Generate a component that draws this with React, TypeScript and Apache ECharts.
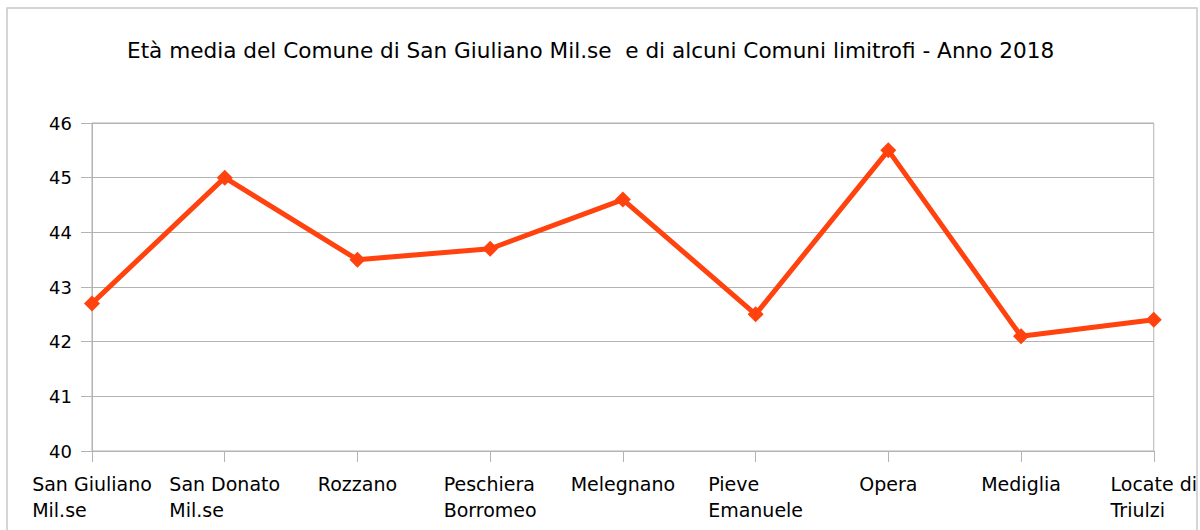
import React, { useEffect, useRef } from "react";
import * as echarts from "echarts";

const categories: string[] = [
  "San Giuliano\nMil.se",
  "San Donato\nMil.se",
  "Rozzano",
  "Peschiera\nBorromeo",
  "Melegnano",
  "Pieve\nEmanuele",
  "Opera",
  "Mediglia",
  "Locate di\nTriulzi",
];
const etaMedia: number[] = [42.7, 45.0, 43.5, 43.7, 44.6, 42.5, 45.5, 42.1, 42.4];
const yTicks = { min: 40, max: 46, interval: 1 };
const titleText = "Età media del Comune di San Giuliano Mil.se  e di alcuni Comuni limitrofi - Anno 2018";

const FONT = "'DejaVu Sans', Verdana, sans-serif";

export default function App() {
  const ref = useRef<HTMLDivElement>(null);
  useEffect(() => {
    document.body.style.margin = "0";
    const chart = echarts.init(ref.current!, null, { renderer: "svg" });
    chart.setOption({
      animation: false,
      backgroundColor: "#ffffff",
      textStyle: { fontFamily: FONT },
      title: {
        text: titleText,
        left: 122,
        top: 34,
        textStyle: { fontFamily: FONT, fontSize: 21.6, fontWeight: "normal", color: "#000" },
      },
      graphic: [
        {
          type: "rect",
          shape: { x: 7, y: 8, width: 1190, height: 540 },
          style: { fill: "none", stroke: "#c8c8c8", lineWidth: 1.5 },
          silent: true,
        },
      ],
      grid: {
        left: 92,
        right: 46,
        top: 123,
        bottom: 79,
        show: true,
        borderColor: "#b3b3b3",
        borderWidth: 1,
      },
      xAxis: {
        type: "category",
        data: categories,
        boundaryGap: false,
        axisLine: { show: true, lineStyle: { color: "#b3b3b3", width: 1 } },
        axisTick: { show: true, length: 11, lineStyle: { color: "#b3b3b3" } },
        splitLine: { show: false },
        axisLabel: {
          interval: 0,
          margin: 20,
          color: "#000",
          fontSize: 19,
          fontFamily: FONT,
          formatter: (v: string) => v.split("\n").map((l) => `{a|${l}}`).join("\n"),
          rich: { a: { align: "left", fontSize: 19, lineHeight: 26, fontFamily: FONT, color: "#000" } },
        },
      },
      yAxis: {
        type: "value",
        min: yTicks.min,
        max: yTicks.max,
        interval: yTicks.interval,
        axisLine: { show: true, lineStyle: { color: "#b3b3b3", width: 1 } },
        axisTick: { show: true, length: 11, lineStyle: { color: "#b3b3b3" } },
        splitLine: { show: true, lineStyle: { color: "#b3b3b3", width: 1 } },
        axisLabel: { margin: 20, color: "#000", fontSize: 18, fontFamily: FONT },
      },
      series: [
        {
          type: "line",
          data: etaMedia,
          symbol: "diamond",
          symbolSize: 16,
          lineStyle: { color: "#ff420e", width: 5 },
          itemStyle: { color: "#ff420e" },
        },
      ],
    });
    return () => chart.dispose();
  }, []);
  return <div ref={ref} style={{ width: 1200, height: 530 }} />;
}
